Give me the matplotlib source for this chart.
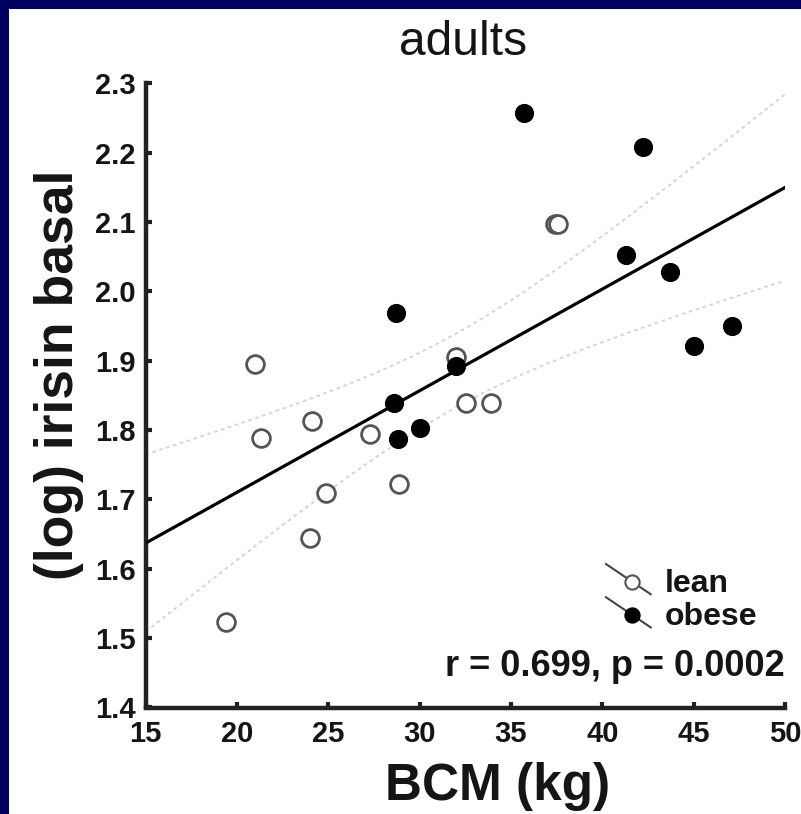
import numpy as np
import matplotlib
matplotlib.use("Agg")
import matplotlib.pyplot as plt
from matplotlib.lines import Line2D
from matplotlib.patches import Rectangle
from matplotlib.legend_handler import HandlerBase

plt.rcParams['font.family'] = ['Liberation Sans', 'DejaVu Sans']

# ---- data ----
lean_bcm = [19.4, 21.0, 21.3, 24.1, 24.0, 24.9, 27.3, 28.9, 32.0, 32.55, 33.9, 37.4, 37.6]
lean_irisin = [1.524, 1.895, 1.788, 1.813, 1.645, 1.709, 1.794, 1.723, 1.905, 1.839, 1.839, 2.097, 2.097]
obese_bcm = [35.7, 42.25, 41.3, 43.7, 47.1, 45.0, 28.7, 32.0, 28.6, 30.0, 28.8]
obese_irisin = [2.257, 2.208, 2.053, 2.028, 1.950, 1.922, 1.969, 1.893, 1.839, 1.803, 1.787]
# regression line (ends at BCM 15 and 50)
fit_bcm = [15, 50]
fit_irisin = [1.637, 2.150]
x_ticks = [15, 20, 25, 30, 35, 40, 45, 50]
y_ticks = [1.4, 1.5, 1.6, 1.7, 1.8, 1.9, 2.0, 2.1, 2.2, 2.3]
y_tick_labels = ['1.4', '1.5', '1.6', '1.7', '1.8', '1.9', '2.0', '2.1', '2.2', '2.3']
title = 'adults'
x_label = 'BCM (kg)'
y_label = '(log) irisin basal'
stats_text = 'r = 0.699, p = 0.0002'
t_crit = 2.074  # t(0.975, df=22)

W, H = 801, 814
fig = plt.figure(figsize=(W / 100, H / 100), dpi=100)
fig.patch.set_facecolor('#00005e')
bg = fig.add_axes([9 / W, 0, 1 - 9 / W, 1 - 9 / H], zorder=-10)
bg.set_axis_off()
bg.add_patch(Rectangle((0, 0), 1, 1, transform=bg.transAxes, facecolor='white',
                       edgecolor='none'))

left, right, bottom_px, top_px = 145.5, 785, 707.5, 83.5
ax = fig.add_axes([left / W, 1 - bottom_px / H, (right - left) / W, (bottom_px - top_px) / H])
ax.set_facecolor('none')
ax.set_xlim(15, 50)
ax.set_ylim(1.4, 2.3)

# regression line + 95% confidence band of the mean
x_all = np.array(lean_bcm + obese_bcm)
y_all = np.array(lean_irisin + obese_irisin)
slope = (fit_irisin[1] - fit_irisin[0]) / (fit_bcm[1] - fit_bcm[0])
intercept = fit_irisin[0] - slope * fit_bcm[0]
n = len(x_all)
resid = y_all - (slope * x_all + intercept)
s = np.sqrt(np.sum(resid ** 2) / (n - 2))
xm = x_all.mean()
sxx = np.sum((x_all - xm) ** 2)
xs = np.linspace(fit_bcm[0], fit_bcm[1], 200)
yfit = slope * xs + intercept
half = t_crit * s * np.sqrt(1 / n + (xs - xm) ** 2 / sxx)
ax.plot(xs, yfit, color='black', lw=2.3, zorder=3)
ax.plot(xs, yfit + half, color='#d2d2d2', lw=1.3, ls=(0, (2, 2)), zorder=2)
ax.plot(xs, yfit - half, color='#d2d2d2', lw=1.3, ls=(0, (2, 2)), zorder=2)

ms = 12.8
ax.plot(lean_bcm, lean_irisin, ls='none', marker='o', ms=ms, mfc='white', mec='#555555',
        mew=2.0, zorder=4, label='lean')
ax.plot(obese_bcm, obese_irisin, ls='none', marker='o', ms=ms, mfc='black', mec='black',
        mew=1.0, zorder=5, label='obese')

for side in ['top', 'right']:
    ax.spines[side].set_visible(False)
for side in ['left', 'bottom']:
    ax.spines[side].set_linewidth(3.2)
    ax.spines[side].set_color('#222222')
    ax.spines[side].set_capstyle('projecting')

ax.set_xticks(x_ticks)
ax.set_xticklabels([str(v) for v in x_ticks])
ax.set_yticks(y_ticks)
ax.set_yticklabels(y_tick_labels)
ax.tick_params(direction='in', length=4.5, width=3, color='#222222', labelsize=21,
               labelcolor='#151515')
ax.tick_params(axis='y', pad=7)
ax.tick_params(axis='x', pad=9)
for lab in ax.get_xticklabels() + ax.get_yticklabels():
    lab.set_fontweight('bold')


class DiagHandler(HandlerBase):
    def create_artists(self, legend, orig_handle, xdescent, ydescent, width, height,
                       fontsize, trans):
        x0, x1 = -xdescent, -xdescent + width
        y_top = -ydescent + height * 1.25
        y_bot = -ydescent - height * 0.1
        ln = Line2D([x0, x1], [y_top, y_bot], color='#444444', lw=1.5, transform=trans)
        f = 0.58
        mk = Line2D([x0 + f * width], [y_top + f * (y_bot - y_top)], ls='none', marker='o',
                    ms=orig_handle.get_markersize() * 0.8,
                    mfc=orig_handle.get_markerfacecolor(),
                    mec=orig_handle.get_markeredgecolor(), mew=1.5, transform=trans)
        return [ln, mk]


handles, labels = ax.get_legend_handles_labels()
leg = ax.legend(handles, labels, handler_map={Line2D: DiagHandler()}, frameon=False,
                prop={'weight': 'bold', 'size': 23}, handlelength=1.4, handletextpad=0.45,
                labelspacing=0.1, borderpad=0, borderaxespad=0,
                loc='upper left', bbox_to_anchor=(606 / W, 1 - 569 / H),
                bbox_transform=fig.transFigure)
for t in leg.get_texts():
    t.set_color('#151515')

ax.text(1.0, 1 - (676 - top_px) / (bottom_px - top_px), stats_text, transform=ax.transAxes,
        ha='right', va='baseline', fontsize=26, fontweight='bold', color='#151515')

fig.text(463.5 / W, 1 - 55 / H, title, ha='center', va='baseline', fontsize=34.5,
         color='#151515')
fig.text(498 / W, 1 - 800 / H, x_label, ha='center', va='baseline', fontsize=37,
         fontweight='bold', color='#151515')
fig.text(59 / W, 1 - 375 / H, y_label, ha='center', va='center', rotation=90, fontsize=38.5,
         fontweight='bold', color='#151515')

fig.savefig('out.png', dpi=100, facecolor=fig.get_facecolor())
